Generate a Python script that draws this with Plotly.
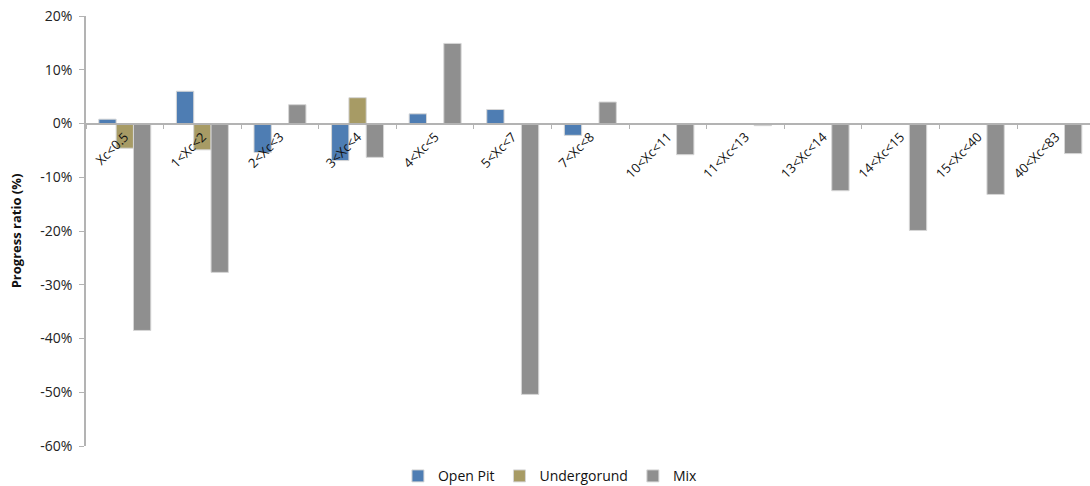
import plotly.graph_objects as go

categories = ["Xc<0.5", "1<Xc<2", "2<Xc<3", "3<Xc<4", "4<Xc<5", "5<Xc<7", "7<Xc<8",
              "10<Xc<11", "11<Xc<13", "13<Xc<14", "14<Xc<15", "15<Xc<40", "40<Xc<83"]
open_pit = [0.8, 6.0, -5.4, -6.9, 1.8, 2.6, -2.2, 0, 0, 0, 0, 0, 0]
undergorund = [-4.6, -4.9, -0.2, 4.8, 0, 0, 0, 0, 0, 0, 0, 0, 0]
mix = [-38.5, -27.7, 3.5, -6.3, 14.9, -50.4, 4.0, -5.8, -0.4, -12.5, -19.9, -13.2, -5.6]
y_ticks = [-60, -50, -40, -30, -20, -10, 0, 10, 20]
y_tick_text = ["-60%", "-50%", "-40%", "-30%", "-20%", "-10%", "0%", "10%", "20%"]

FONT = "Open Sans"
AXIS_GREY = "#b3b3b3"

series = [
    ("Open Pit", open_pit, "#4e7db3"),
    ("Undergorund", undergorund, "#a79b65"),
    ("Mix", mix, "#8f8f8f"),
]

fig = go.Figure()
for name, vals, color in series:
    fig.add_trace(go.Bar(
        x=categories, y=vals, name=name,
        marker=dict(color=color, line=dict(color="#d6d6d6", width=1)),
    ))

y_min, y_max = -60, 20
fig.update_layout(
    width=1090, height=486,
    margin=dict(l=86, r=0, t=16, b=40, autoexpand=False),
    paper_bgcolor="white", plot_bgcolor="white",
    barmode="group", bargap=0.33, bargroupgap=0,
    font=dict(family=FONT, size=13, color="#222222"),
    showlegend=True,
    legend=dict(orientation="h", xref="container", x=0.505, xanchor="center",
                yref="container", y=0.02, yanchor="middle",
                font=dict(size=14, color="#111111"), itemwidth=30, tracegroupgap=0,
                traceorder="normal"),
    xaxis=dict(
        type="category", range=[-0.5, 12.44],
        anchor="free", position=(0 - y_min) / (y_max - y_min),
        showline=True, linecolor=AXIS_GREY, linewidth=1.5,
        ticks="outside", tickson="boundaries", ticklen=5, tickcolor=AXIS_GREY,
        tickangle=-45, tickfont=dict(size=13, color="#111111"),
        showgrid=False, zeroline=False,
    ),
    yaxis=dict(
        range=[y_min, y_max], tickmode="array", tickvals=y_ticks, ticktext=y_tick_text,
        showline=True, linecolor=AXIS_GREY, linewidth=1.5,
        ticks="outside", ticklen=5, tickcolor=AXIS_GREY, ticklabelstandoff=4,
        tickfont=dict(size=14, color="#222222"),
        showgrid=False, zeroline=False,
        title=dict(text="<b>Progress ratio (%)</b>", font=dict(size=13, color="#111111"),
                   standoff=16),
    ),
)

fig.write_html("out.html")
